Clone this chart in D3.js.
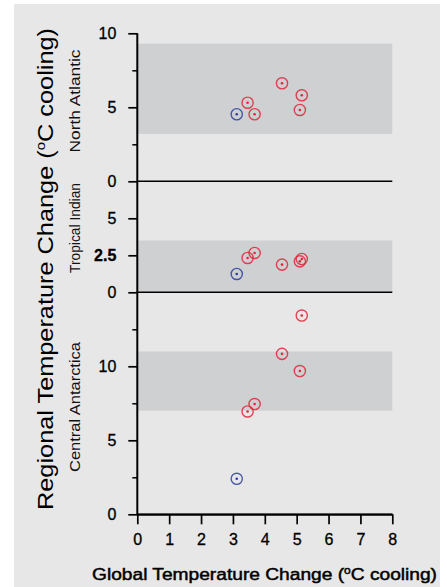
<!DOCTYPE html>
<html>
<head>
<meta charset="utf-8">
<script src="https://cdn.jsdelivr.net/npm/d3@7"></script>
<style>
  body { margin: 0; background: #fff; }
  svg { display: block; font-family: "Liberation Sans", Arial, Helvetica, sans-serif; }
</style>
</head>
<body>
<svg id="chart"></svg>
<script>
// global cooling of each simulation (first one is the blue run)
const globalCooling = [3.12, 3.46, 3.68, 4.54, 5.10, 5.16];
const runType = ["blue", "red", "red", "red", "red", "red"];
const northAtlantic = [4.53, 5.31, 4.53, 6.62, 4.82, 5.81];
const tropicalIndian = [1.24, 2.32, 2.66, 1.87, 2.09, 2.25];
const centralAntarctica = [2.4, 6.95, 7.45, 10.84, 9.68, 13.43];
// proxy ranges (shaded bands)
const bandNA = [3.2, 9.3];
const bandTI = [0, 3.5];
const bandCA = [7.0, 11.0];
const xTicks = [0, 1, 2, 3, 4, 5, 6, 7, 8];

const width = 447, height = 587;
const x0 = 137.3, x1 = 392.3, plotTop = 33.3, unit = 14.8;

const svg = d3.select("#chart").attr("width", width).attr("height", height);

svg.append("rect").attr("x", 14).attr("y", 4).attr("width", 426).attr("height", 583).attr("fill", "#e7e7e7");

const x = d3.scaleLinear().domain([0, 8]).range([x0, x1]);

// three stacked panels sharing the same px/unit
const panels = [
  { name: "North Atlantic", max: 10, vals: northAtlantic, band: bandNA, major: [0, 5, 10], minor: [2.5, 7.5], labelLen: 103, labelMid: 101 },
  { name: "Tropical Indian", max: 7.5, vals: tropicalIndian, band: bandTI, major: [0, 2.5, 5], minor: [], labelLen: 90, labelMid: 228 },
  { name: "Central Antarctica", max: 15, vals: centralAntarctica, band: bandCA, major: [0, 5, 10], minor: [2.5, 7.5, 12.5], labelLen: 130, labelMid: 407 }
];
let cur = plotTop;
panels.forEach(p => {
  const y0 = cur + p.max * unit;
  p.y = d3.scaleLinear().domain([0, p.max]).range([y0, cur]);
  cur = y0;
});

const colors = { blue: "#2d3f9e", red: "#e0263a" };

panels.forEach((p, i) => {
  const g = svg.append("g");
  g.append("rect")
    .attr("x", x(0)).attr("width", x(8) - x(0))
    .attr("y", p.y(p.band[1])).attr("height", p.y(p.band[0]) - p.y(p.band[1]))
    .attr("fill", "#cfd0d2");

  // baseline of each panel
  g.append("line")
    .attr("x1", x(0)).attr("x2", x(8))
    .attr("y1", p.y(0)).attr("y2", p.y(0))
    .attr("stroke", "#000").attr("stroke-width", 1.6);

  const ax = g.append("g").attr("transform", `translate(${x0},0)`)
    .call(d3.axisLeft(p.y).tickValues(p.major).tickFormat(d => String(d))
      .tickSize(9).tickPadding(12).tickSizeOuter(0));
  ax.select(".domain").remove();
  ax.selectAll("line").attr("stroke-width", 1.7);
  ax.selectAll("text").attr("font-size", 16).attr("fill", "#000")
    .attr("stroke", "#000").attr("stroke-width", 0.3)
    .attr("font-family", "Liberation Sans, Arial, sans-serif")
    .attr("font-weight", d => (i === 1 && d === 2.5) ? "bold" : "normal");

  if (p.minor.length) {
    const mn = g.append("g").attr("transform", `translate(${x0},0)`)
      .call(d3.axisLeft(p.y).tickValues(p.minor).tickSize(5).tickFormat(""));
    mn.select(".domain").remove();
    mn.selectAll("line").attr("stroke-width", 1.5);
  }

  g.append("text")
    .attr("transform", `translate(80,${p.labelMid}) rotate(-90)`)
    .attr("text-anchor", "middle")
    .attr("font-size", 14)
    .attr("textLength", p.labelLen).attr("lengthAdjust", "spacingAndGlyphs")
    .attr("fill", "#111")
    .text(p.name);

  const pts = g.selectAll(".pt").data(globalCooling.map((gc, k) => ({ gc, v: p.vals[k], t: runType[k] })))
    .join("g").attr("class", "pt")
    .attr("transform", d => `translate(${x(d.gc)},${p.y(d.v)})`);
  pts.append("circle").attr("r", 5.6).attr("fill", "none")
    .attr("stroke", d => colors[d.t]).attr("stroke-width", 1.4).attr("stroke-opacity", 0.85);
  pts.append("circle").attr("r", 1.3).attr("fill", d => colors[d.t]);
});

// vertical axis line through all panels
svg.append("line")
  .attr("x1", x0).attr("x2", x0)
  .attr("y1", panels[0].y(10)).attr("y2", panels[2].y(0))
  .attr("stroke", "#000").attr("stroke-width", 2);

const xa = svg.append("g").attr("transform", `translate(0,${panels[2].y(0)})`)
  .call(d3.axisBottom(x).tickValues(xTicks).tickSize(10).tickPadding(9).tickSizeOuter(0));
xa.select(".domain").attr("stroke-width", 2);
xa.selectAll("line").attr("stroke-width", 1.7);
xa.selectAll("text").attr("font-size", 16).attr("fill", "#000")
  .attr("stroke", "#000").attr("stroke-width", 0.3)
  .attr("font-family", "Liberation Sans, Arial, sans-serif");

// axis titles
const xt = svg.append("text")
  .attr("x", 264.5).attr("y", 580)
  .attr("text-anchor", "middle").attr("font-size", 16)
  .attr("textLength", 345).attr("lengthAdjust", "spacingAndGlyphs")
  .attr("fill", "#000").attr("stroke", "#000").attr("stroke-width", 0.45);
xt.append("tspan").text("Global Temperature Change (");
xt.append("tspan").attr("font-size", 10).attr("dy", -6).text("o");
xt.append("tspan").attr("dy", 6).text("C cooling)");

const yt = svg.append("text")
  .attr("transform", "translate(53,269) rotate(-90)")
  .attr("text-anchor", "middle").attr("font-size", 22)
  .attr("textLength", 482).attr("lengthAdjust", "spacingAndGlyphs")
  .attr("fill", "#000");
yt.append("tspan").text("Regional Temperature Change (");
yt.append("tspan").attr("font-size", 13).attr("dy", -8).text("o");
yt.append("tspan").attr("dy", 8).text("C cooling)");
</script>
</body>
</html>
